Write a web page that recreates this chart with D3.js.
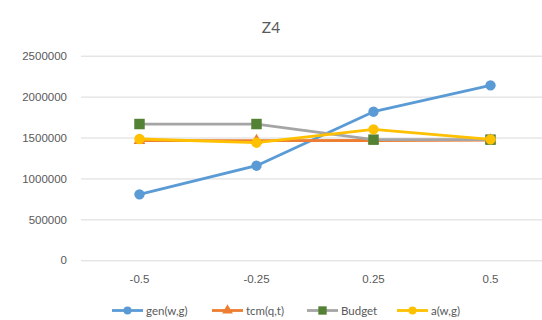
<!DOCTYPE html>
<html>
<head>
<meta charset="utf-8">
<script src="https://cdn.jsdelivr.net/npm/d3@7"></script>
<style>
  body { margin: 0; background: #fff; }
  svg { display: block; font-family: Lato, "Open Sans", sans-serif; }
  .tick text { fill: #595959; font-size: 11.5px; }
</style>
</head>
<body>
<div id="chart"></div>
<script>
// Z4 line chart — four series over four categories
const categories = ["-0.5", "-0.25", "0.25", "0.5"];
const yTicks = [0, 500000, 1000000, 1500000, 2000000, 2500000];

const genValues    = [806000, 1156000, 1816000, 2138000];
const tcmValues    = [1462000, 1462000, 1464000, 1468000];
const budgetValues = [1665000, 1665000, 1474000, 1474000];
const aValues      = [1482000, 1437000, 1600000, 1478000];

const seriesNames = ["gen(w,g)", "tcm(q,t)", "Budget", "a(w,g)"];

const series = [
  { name: seriesNames[0], values: genValues,    line: "#5B9BD5", fill: "#5B9BD5", marker: "circle" },
  { name: seriesNames[1], values: tcmValues,    line: "#ED7D31", fill: "#ED7D31", marker: "triangle" },
  { name: seriesNames[2], values: budgetValues, line: "#A5A5A5", fill: "#548235", marker: "square" },
  { name: seriesNames[3], values: aValues,      line: "#FFC000", fill: "#FFC000", marker: "circle" },
];

const W = 542, H = 320;
const plot = { left: 81, right: 549, top: 55.7, bottom: 260.3 };

const svg = d3.select("#chart").append("svg").attr("width", W).attr("height", H);

const x = d3.scaleBand().domain(categories).range([plot.left, plot.right]);
const y = d3.scaleLinear().domain([0, 2500000]).range([plot.bottom, plot.top]);

// title
svg.append("text")
  .attr("x", 271).attr("y", 33)
  .attr("text-anchor", "middle")
  .attr("fill", "#595959")
  .style("font-size", "15.5px")
  .text("Z4");

// gridlines
svg.append("g")
  .attr("transform", `translate(${plot.left},0)`)
  .call(d3.axisLeft(y).tickValues(yTicks).tickSize(-(plot.right - plot.left)).tickFormat(""))
  .call((g) => g.select(".domain").remove())
  .selectAll("line").attr("stroke", "#D9D9D9").attr("stroke-width", 1);

// y labels
svg.append("g")
  .attr("transform", `translate(${plot.left - 14},0)`)
  .call(d3.axisLeft(y).tickValues(yTicks).tickSize(0).tickPadding(0).tickFormat(d3.format("d")))
  .call((g) => g.select(".domain").remove());

// x labels
svg.append("g")
  .attr("transform", `translate(0,${plot.bottom})`)
  .call(d3.axisBottom(x).tickSize(0))
  .call((g) => g.select(".domain").remove())
  .selectAll("text").attr("dy", null).attr("y", 23.2);

const cx = (i) => x(categories[i]) + x.bandwidth() / 2;

const line = d3.line()
  .x((d, i) => cx(i))
  .y((d) => y(d));

const symbolFor = {
  circle: d3.symbol().type(d3.symbolCircle).size(Math.PI * 5.2 * 5.2),
  triangle: d3.symbol().type(d3.symbolTriangle).size(60),
  square: d3.symbol().type(d3.symbolSquare).size(110),
};

const gSeries = svg.append("g");
for (const s of series) {
  const g = gSeries.append("g");
  g.append("path")
    .attr("d", line(s.values))
    .attr("fill", "none")
    .attr("stroke", s.line)
    .attr("stroke-width", 2.8)
    .attr("stroke-linejoin", "round");
  g.selectAll("path.mk")
    .data(s.values)
    .enter().append("path")
    .attr("class", "mk")
    .attr("transform", (d, i) => `translate(${cx(i)},${y(d)})`)
    .attr("d", symbolFor[s.marker]())
    .attr("fill", s.fill);
}

// legend
const legendX = [112, 212, 307, 397];
const legend = svg.append("g").attr("transform", "translate(0,310.5)");
series.forEach((s, i) => {
  const g = legend.append("g").attr("transform", `translate(${legendX[i]},0)`);
  g.append("line").attr("x1", 0).attr("x2", 31).attr("y1", 0).attr("y2", 0)
    .attr("stroke", s.line).attr("stroke-width", 2.8);
  const sym = s.marker === "circle" ? d3.symbol().type(d3.symbolCircle).size(Math.PI * 4 * 4)
    : s.marker === "triangle" ? d3.symbol().type(d3.symbolTriangle).size(50)
    : d3.symbol().type(d3.symbolSquare).size(70);
  g.append("path").attr("transform", "translate(15.5,0)").attr("d", sym()).attr("fill", s.fill);
  g.append("text").attr("x", 34).attr("y", 4)
    .attr("fill", "#595959").style("font-size", "11.5px")
    .text(s.name);
});
</script>
</body>
</html>
